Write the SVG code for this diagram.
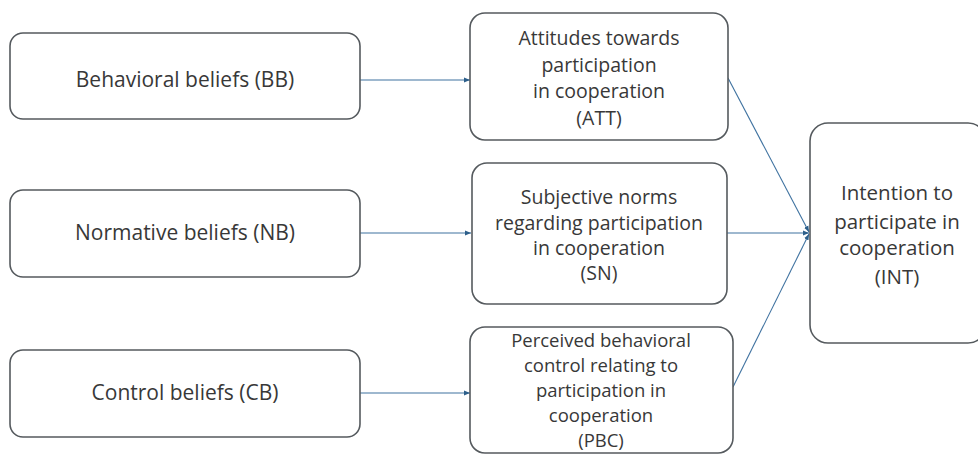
<svg xmlns="http://www.w3.org/2000/svg" width="978" height="455" viewBox="0 0 978 455">
<style>
.box{fill:#fff;stroke:#555a5e;stroke-width:1.6}
.t{font-family:"Open Sans","Liberation Sans",sans-serif;font-size:19.5px;fill:#383838;text-anchor:middle}
.l{font-size:21px}
.i{font-size:20.5px}
.p{font-size:18.5px}
.c{fill:none;stroke:#3f72a0;stroke-width:1.1}
</style>
<defs>
<marker id="ah" viewBox="0 0 10 10" refX="10" refY="5" markerWidth="6" markerHeight="6" markerUnits="userSpaceOnUse" orient="auto">
<path d="M0,1 L10,5 L0,9 z" fill="#2d5f8a"/>
</marker>
</defs>
<rect width="978" height="455" fill="#fff"/>
<g id="connectors">
<line class="c" x1="360" y1="80" x2="470" y2="80" marker-end="url(#ah)"/>
<line class="c" x1="360" y1="233" x2="471" y2="233" marker-end="url(#ah)"/>
<line class="c" x1="360" y1="393" x2="470" y2="393" marker-end="url(#ah)"/>
<line class="c" x1="728" y1="78" x2="809" y2="232" marker-end="url(#ah)"/>
<line class="c" x1="727" y1="233" x2="809" y2="233" marker-end="url(#ah)"/>
<line class="c" x1="733" y1="387" x2="809" y2="234" marker-end="url(#ah)"/>
</g>
<g id="BB">
<rect class="box" x="10" y="33" width="350" height="86" rx="13"/>
<text class="t l" x="185" y="87">Behavioral beliefs (BB)</text>
</g>
<g id="NB">
<rect class="box" x="10" y="190" width="350" height="87" rx="13"/>
<text class="t l" x="185" y="240">Normative beliefs (NB)</text>
</g>
<g id="CB">
<rect class="box" x="10" y="350" width="350" height="87" rx="13"/>
<text class="t l" x="185" y="400">Control beliefs (CB)</text>
</g>
<g id="ATT">
<rect class="box" x="470" y="13" width="258" height="127" rx="15"/>
<text class="t" x="599" y="45">Attitudes towards</text>
<text class="t" x="599" y="72">participation</text>
<text class="t" x="599" y="98">in cooperation</text>
<text class="t" x="599" y="125">(ATT)</text>
</g>
<g id="SN">
<rect class="box" x="472" y="163" width="255" height="141" rx="15"/>
<text class="t" x="599" y="204">Subjective norms</text>
<text class="t" x="599" y="230">regarding participation</text>
<text class="t" x="599" y="255">in cooperation</text>
<text class="t" x="599" y="280">(SN)</text>
</g>
<g id="PBC">
<rect class="box" x="470" y="327" width="263" height="126" rx="15"/>
<text class="t p" x="601" y="347">Perceived behavioral</text>
<text class="t p" x="601" y="372">control relating to</text>
<text class="t p" x="601" y="397">participation in</text>
<text class="t p" x="601" y="422">cooperation</text>
<text class="t p" x="601" y="447">(PBC)</text>
</g>
<g id="INT">
<rect class="box" x="810" y="123" width="176" height="220" rx="18"/>
<text class="t i" x="897" y="200">Intention to</text>
<text class="t i" x="897" y="229">participate in</text>
<text class="t i" x="897" y="255">cooperation</text>
<text class="t i" x="897" y="284">(INT)</text>
</g>
</svg>
